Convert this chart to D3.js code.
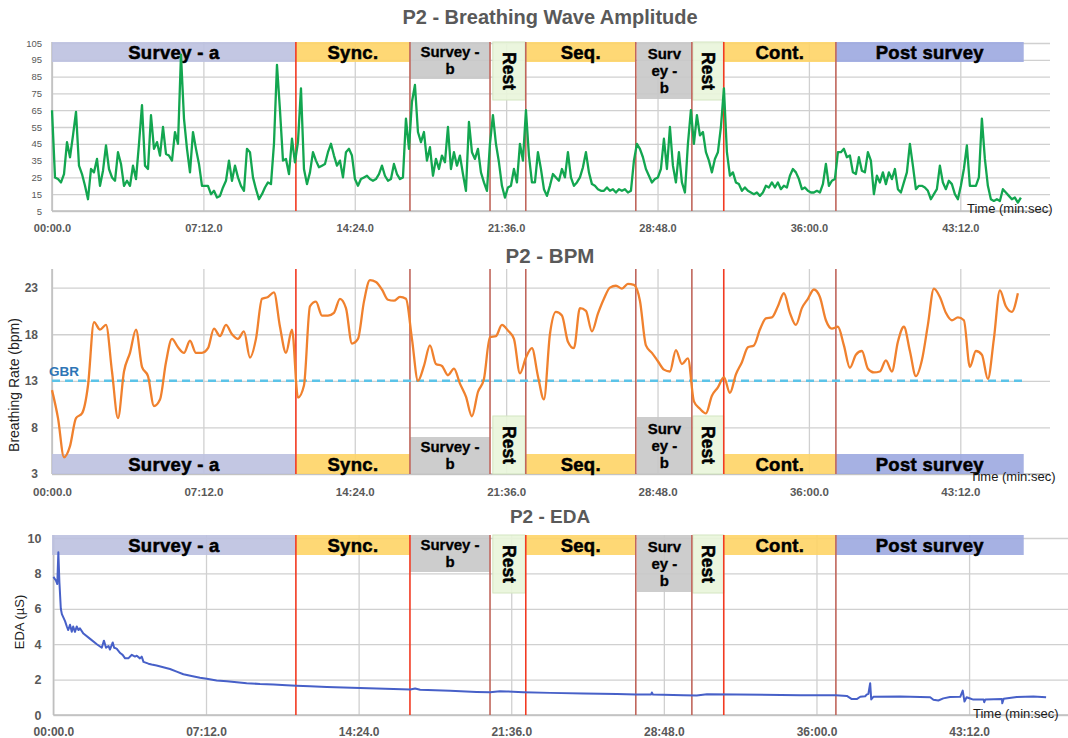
<!DOCTYPE html>
<html>
<head>
<meta charset="utf-8">
<script src="https://cdn.jsdelivr.net/npm/d3@7"></script>
<style>
    body { margin: 0; background: #fff; }
    svg text { font-family: "Liberation Sans", Arial, sans-serif; }
</style>
</head>
<body>
<svg id="chart" width="1068" height="738"></svg>
<script>
// ---- data ----
// breathing wave amplitude, one sample every AMP_STEP seconds
const AMP_STEP = 8.56;
const ampValues = [
    65, 25, 24, 22, 27, 46, 37, 50, 64, 32,
    27, 20, 12, 30, 28, 36, 20, 29, 44, 30,
    25, 23, 40, 33, 20, 23, 20, 32, 24, 45,
    68, 32, 30, 62, 42, 46, 38, 55, 39, 38,
    35, 52, 45, 98, 60, 42, 28, 52, 42, 33,
    20, 20, 20, 15, 17, 13, 14, 19, 23, 35,
    23, 32, 25, 20, 17, 42, 40, 25, 18, 12,
    15, 19, 22, 21, 45, 92, 65, 35, 36, 27,
    48, 34, 46, 78, 30, 21, 28, 40, 35, 31,
    32, 33, 40, 45, 38, 32, 35, 25, 40, 42,
    38, 24, 20, 24, 25, 26, 24, 23, 24, 27,
    32, 26, 23, 24, 33, 27, 24, 25, 60, 42,
    70, 80, 52, 46, 52, 35, 43, 26, 36, 30,
    38, 34, 55, 30, 40, 32, 38, 27, 17, 58,
    40, 36, 42, 28, 22, 17, 45, 62, 45, 34,
    20, 13, 19, 20, 30, 22, 45, 35, 65, 38,
    22, 22, 40, 30, 18, 14, 20, 27, 25, 23,
    30, 25, 40, 25, 20, 22, 25, 31, 40, 28,
    21, 20, 18, 17, 17, 19, 17, 18, 16, 18,
    17, 18, 16, 17, 35, 45, 42, 37, 30, 26,
    22, 24, 25, 30, 48, 30, 55, 32, 22, 40,
    22, 16, 45, 65, 45, 62, 50, 52, 40, 35,
    28, 36, 40, 55, 78, 40, 26, 28, 22, 21,
    17, 19, 17, 16, 15, 16, 14, 16, 20, 19,
    22, 19, 22, 18, 20, 19, 26, 30, 28, 24,
    18, 19, 17, 16, 16, 17, 16, 21, 33, 20,
    23, 24, 40, 40, 42, 37, 38, 28, 27, 37,
    29, 28, 40, 35, 15, 26, 22, 28, 21, 28,
    24, 30, 18, 16, 22, 28, 45, 32, 18, 20,
    20, 19, 17, 12, 15, 18, 32, 22, 18, 23,
    21, 15, 12, 20, 30, 44, 20, 20, 20, 25,
    60, 36, 20, 12, 11, 12, 11, 18, 16, 14,
    12, 13, 10, 13
];

// breathing rate, one sample every BPM_STEP seconds
const BPM_STEP = 17.12;
const bpmValues = [
    12.0, 9.0, 4.8, 6.0, 9.0, 9.5, 12.5, 19.3, 18.5, 19.0,
    14.0, 9.0, 14.0, 16.0, 18.5, 14.5, 13.5, 10.3, 11.0, 15.0,
    17.5, 16.6, 16.0, 17.3, 16.0, 16.0, 16.5, 18.6, 17.8, 19.0,
    18.0, 17.5, 18.3, 15.5, 17.5, 21.8, 22.0, 22.5, 18.8, 16.0,
    18.5, 11.2, 12.5, 21.0, 21.5, 20.0, 20.0, 20.3, 21.8, 20.8,
    17.0, 17.5, 21.5, 23.8, 23.6, 22.8, 21.7, 21.6, 22.0, 21.8,
    17.5, 13.0, 14.6, 16.8, 14.8, 14.6, 13.6, 14.3, 12.7, 11.3,
    9.2, 11.8, 13.2, 17.7, 17.8, 19.0, 18.4, 17.5, 13.8, 15.5,
    16.5, 13.5, 11.0, 18.0, 20.4, 20.0, 17.2, 16.5, 20.8, 20.5,
    18.3, 20.2, 21.8, 23.0, 23.2, 22.9, 23.4, 23.3, 21.6, 16.8,
    16.0, 15.1, 14.2, 14.0, 16.3, 14.8, 15.4, 10.8, 10.0, 9.5,
    11.4, 12.3, 13.4, 11.7, 13.7, 15.0, 16.6, 16.8, 18.5, 19.7,
    19.8, 21.0, 22.4, 20.3, 19.0, 20.8, 21.8, 22.8, 22.0, 19.5,
    18.6, 18.8, 16.8, 14.4, 15.8, 16.2, 14.3, 13.9, 14.0, 15.2,
    14.0, 17.2, 18.8, 16.2, 13.5, 15.2, 19.0, 22.9, 22.0, 20.3,
    19.5, 19.8, 19.5, 14.5, 16.2, 15.8, 13.2, 17.5, 22.7, 21.0,
    20.4, 22.4
];
const GBR = 13;

// electrodermal activity, irregular sample times (s)
const edaTimes = [
    0, 7, 11, 14, 17, 21, 24, 33, 38, 42, 47, 52, 56, 61, 66, 71, 75, 85,
    104, 123, 137, 143, 149, 156, 160, 168, 172, 179, 189, 196, 203, 212,
    222, 231, 236, 245, 250, 255, 269, 278, 292, 311, 330, 349, 368, 391,
    415, 434, 462, 491, 519, 547, 585, 623, 660, 688, 726, 774, 821, 868,
    1010, 1024, 1038, 1123, 1198, 1236, 1264, 1283, 1330, 1406, 1500, 1595,
    1649, 1692, 1694, 1697, 1783, 1821, 1850, 1934, 2114, 2215, 2246, 2260,
    2274, 2284, 2298, 2302, 2307, 2312, 2315, 2321, 2397, 2482, 2491, 2505,
    2519, 2538, 2567, 2574, 2579, 2585, 2595, 2604, 2633, 2635, 2638, 2685,
    2686, 2690, 2727, 2774, 2810
];
const edaValues = [
    7.8, 7.6, 7.4, 9.2, 7.5, 6.0, 5.7, 5.3, 5.0, 4.8, 5.1, 4.7, 5.0, 4.7, 5.0, 4.8, 4.9, 4.6,
    4.3, 4.0, 3.8, 4.2, 3.8, 3.9, 3.7, 4.1, 3.8, 3.75, 3.5, 3.4, 3.2, 3.2,
    3.4, 3.3, 3.35, 3.2, 3.3, 3.0, 2.9, 2.85, 2.8, 2.7, 2.6, 2.45, 2.3, 2.2,
    2.1, 2.05, 1.95, 1.9, 1.85, 1.8, 1.75, 1.72, 1.68, 1.65, 1.62, 1.58, 1.55, 1.52,
    1.44, 1.5, 1.43, 1.37, 1.3, 1.28, 1.34, 1.33, 1.29, 1.25, 1.21, 1.18,
    1.16, 1.16, 1.27, 1.16, 1.12, 1.1, 1.17, 1.16, 1.12, 1.11, 1.08, 0.9,
    0.9, 1.03, 1.06, 1.15, 1.2, 1.8, 0.88, 1.03, 1.04, 1.0, 0.86, 0.82,
    0.94, 1.02, 1.03, 1.38, 0.76, 1.0, 0.93, 0.87, 0.88, 0.72, 0.88, 0.9,
    0.66, 0.92, 1.02, 1.04, 1.0
];

// time axis
const tickSeconds = [0, 432, 864, 1296, 1728, 2160, 2592];
const tickLabels = ["00:00.0", "07:12.0", "14:24.0", "21:36.0", "28:48.0", "36:00.0", "43:12.0"];

// study phases (seconds)
const phaseLabels = [["Survey - a"], ["Sync."], ["Survey -", "b"], ["Rest"], ["Seq."],
    ["Surv", "ey -", "b"], ["Rest"], ["Cont."], ["Post survey"]];
const phaseKinds = ["a", "task", "b", "rest", "task", "b3", "rest", "task", "post"];
const phaseStart = [0, 696, 1021.5, 1258, 1352, 1669, 1829, 1917, 2237];
const phaseEnd = [696, 1021.5, 1250, 1350, 1666, 1826, 1917, 2237, 2773];
const boundaries = [696, 1021.5, 1250, 1352, 1666, 1826, 1917, 2237];

// ---- styles ----
const kindFill = { a: '#bcc1e0', task: '#fed466', b: '#c8c8c8', rest: '#e9f5da', post: '#9ca9e0' };
kindFill.b3 = kindFill.b;
const kindHeight = { a: 20, task: 20, post: 20, b: 37, b3: 57, rest: 58 };
const gray = '#595959';
const gridColor = '#d0d0d0';

const svg = d3.select('#chart');

// phase overlays share one horizontal placement in every panel
const phaseX = d3.scaleLinear().domain([0, 2848]).range([52, 1050]);

const panels = [
    {
        title: 'P2 - Breathing Wave Amplitude', titleSize: 20, titleY: 24,
        x0: 52, x1: 1050, tEnd: 2848, yTop: 43, yBot: 211,
        yDomain: [5, 105], yTicks: d3.range(5, 106, 10),
        yFont: { size: 9.5, weight: 'normal', pad: 10 },
        xFont: 11, xPad: 13,
        bandAt: 'top', bandEdge: 42, lineTop: 42, redIdx: [0, 6],
        timeLabel: { x: 967, y: 213 }
    },
    {
        title: 'P2 - BPM', titleSize: 20.5, titleY: 263,
        x0: 52, x1: 1050, tEnd: 2848, yTop: 269, yBot: 474,
        yDomain: [3, 25], yTicks: [3, 8, 13, 18, 23],
        yFont: { size: 12, weight: 'bold', pad: 14 },
        xFont: 11.5, xPad: 13.5,
        bandAt: 'bottom', bandEdge: 474, lineTop: 269, redIdx: [0, 6],
        timeLabel: { x: 970, y: 481 },
        yTitle: { text: 'Breathing Rate (bpm)', x: 19, y: 385, size: 14 }
    },
    {
        title: 'P2 - EDA', titleSize: 19, titleY: 523,
        x0: 53.4, x1: 1068, tEnd: 2872, yTop: 538, yBot: 715,
        yDomain: [0, 10], yTicks: d3.range(0, 11, 2),
        yFont: { size: 12.5, weight: 'bold', pad: 12 },
        xFont: 12, xPad: 12,
        bandAt: 'top', bandEdge: 535, lineTop: 535, redIdx: [0, 1, 3, 6],
        timeLabel: { x: 973, y: 718 },
        yTitle: { text: 'EDA (µS)', x: 24, y: 622, size: 13 }
    }
];

panels.forEach(p => {
    p.x = d3.scaleLinear().domain([0, p.tEnd]).range([p.x0, p.x1]);
    p.y = d3.scaleLinear().domain(p.yDomain).range([p.yBot, p.yTop]);
    p.g = svg.append('g');
    const g = p.g;

    // horizontal grid + y labels
    const yAxis = g.append('g')
        .attr('transform', `translate(${p.x0},0)`)
        .call(d3.axisLeft(p.y).tickValues(p.yTicks).tickSize(-(p.x1 - p.x0)).tickPadding(p.yFont.pad));
    yAxis.select('.domain').remove();
    yAxis.selectAll('line').attr('stroke', gridColor).attr('stroke-width', 1.3);
    yAxis.selectAll('text')
        .attr('fill', gray)
        .style('font-size', p.yFont.size + 'px')
        .style('font-weight', p.yFont.weight)
        .style('font-family', '"Liberation Sans", Arial, sans-serif');

    // vertical grid + time labels
    const xAxis = g.append('g')
        .attr('transform', `translate(0,${p.yBot})`)
        .call(d3.axisBottom(p.x).tickValues(tickSeconds)
            .tickFormat((d, i) => tickLabels[i])
            .tickSize(-(p.yBot - p.lineTop)).tickPadding(p.xPad));
    xAxis.select('.domain').remove();
    xAxis.selectAll('line').attr('stroke', gridColor).attr('stroke-width', 1.3);
    xAxis.selectAll('text')
        .attr('fill', gray)
        .style('font-size', p.xFont + 'px')
        .style('font-weight', 'bold')
        .style('font-family', '"Liberation Sans", Arial, sans-serif');

    // axis lines
    g.append('line')
        .attr('x1', p.x0).attr('x2', p.x1)
        .attr('y1', p.yBot).attr('y2', p.yBot)
        .attr('stroke', '#bfbfbf').attr('stroke-width', 1.5);
    g.append('line')
        .attr('x1', p.x0).attr('x2', p.x0)
        .attr('y1', p.lineTop).attr('y2', p.yBot)
        .attr('stroke', '#bfbfbf').attr('stroke-width', 1.5);

    // phase boxes
    const bands = g.selectAll('.band')
        .data(phaseLabels.map((lines, i) => ({ lines, kind: phaseKinds[i], s: phaseStart[i], e: phaseEnd[i] })))
        .enter().append('g');

    bands.each(function(d) {
        const h = kindHeight[d.kind];
        const top = p.bandAt === 'top' ? p.bandEdge : p.bandEdge - h;
        const xs = phaseX(d.s), xe = phaseX(d.e);
        const b = d3.select(this);
        b.append('rect')
            .attr('x', xs).attr('y', top)
            .attr('width', xe - xs).attr('height', h)
            .attr('fill', kindFill[d.kind])
            .attr('fill-opacity', 0.9)
            .attr('stroke', d.kind === 'rest' ? '#d4e6c2' : 'none');
        const cx = (xs + xe) / 2;
        // heavy black lettering like the original boxes
        const label = sel => sel
            .attr('text-anchor', 'middle').attr('dy', '0.35em')
            .attr('fill', '#000').attr('stroke', '#000').attr('stroke-width', 0.5)
            .style('font-weight', 'bold');
        if (d.kind === 'rest') {
            b.append('text')
                .attr('transform', `translate(${cx},${top + h / 2}) rotate(90)`)
                .call(label)
                .style('font-size', '17.5px')
                .text(d.lines[0]);
        } else if (d.kind === 'b' || d.kind === 'b3') {
            const step = 16.8;
            const c0 = top + h / 2 - step * (d.lines.length - 1) / 2;
            d.lines.forEach((ln, k) => {
                b.append('text')
                    .attr('x', cx).attr('y', c0 + k * step)
                    .call(label)
                    .attr('stroke-width', 0.3)
                    .style('font-size', '15px')
                    .text(ln);
            });
        } else {
            b.append('text')
                .attr('x', cx).attr('y', top + h / 2 + 1)
                .call(label)
                .style('font-size', '18.5px')
                .style('letter-spacing', '0.3px')
                .text(d.lines[0]);
        }
    });

    // phase boundaries
    g.selectAll('.boundary')
        .data(boundaries)
        .enter().append('line')
        .attr('x1', d => phaseX(d)).attr('x2', d => phaseX(d))
        .attr('y1', p.lineTop).attr('y2', p.yBot)
        .attr('stroke', (d, i) => p.redIdx.includes(i) ? '#f23a22' : '#c0665c')
        .attr('stroke-width', 1.6);

    // titles
    g.append('text')
        .attr('x', 550).attr('y', p.titleY)
        .attr('text-anchor', 'middle')
        .attr('fill', gray)
        .style('font-size', p.titleSize + 'px').style('font-weight', 'bold')
        .text(p.title);

    g.append('text')
        .attr('x', p.timeLabel.x).attr('y', p.timeLabel.y)
        .attr('fill', '#1a1a1a')
        .style('font-size', '13px')
        .text('Time (min:sec)');

    if (p.yTitle) {
        g.append('text')
            .attr('transform', `translate(${p.yTitle.x},${p.yTitle.y}) rotate(-90)`)
            .attr('text-anchor', 'middle')
            .attr('fill', '#222')
            .style('font-size', p.yTitle.size + 'px')
            .text(p.yTitle.text);
    }
});

// ---- series ----
const [ampP, bpmP, edaP] = panels;

ampP.g.append('path')
    .datum(ampValues)
    .attr('fill', 'none')
    .attr('stroke', '#13a650')
    .attr('stroke-width', 2.3)
    .attr('stroke-linejoin', 'round')
    .attr('d', d3.line().x((d, i) => ampP.x(i * AMP_STEP)).y(d => ampP.y(d)));

// GBR reference
bpmP.g.append('line')
    .attr('x1', bpmP.x(0)).attr('x2', bpmP.x(2770))
    .attr('y1', bpmP.y(GBR)).attr('y2', bpmP.y(GBR))
    .attr('stroke', '#5bc3e8').attr('stroke-width', 2.5)
    .attr('stroke-dasharray', '8,5');
bpmP.g.append('text')
    .attr('x', 49).attr('y', bpmP.y(GBR) - 5)
    .attr('fill', '#2e75b6')
    .style('font-size', '13.5px').style('font-weight', 'bold')
    .text('GBR');

bpmP.g.append('path')
    .datum(bpmValues)
    .attr('fill', 'none')
    .attr('stroke', '#f0812e')
    .attr('stroke-width', 2.3)
    .attr('stroke-linejoin', 'round')
    .attr('d', d3.line().curve(d3.curveMonotoneX).x((d, i) => bpmP.x(i * BPM_STEP)).y(d => bpmP.y(d)));

edaP.g.append('path')
    .datum(edaValues)
    .attr('fill', 'none')
    .attr('stroke', '#4760c8')
    .attr('stroke-width', 2)
    .attr('stroke-linejoin', 'round')
    .attr('d', d3.line().x((d, i) => edaP.x(edaTimes[i])).y(d => edaP.y(d)));
</script>
</body>
</html>
